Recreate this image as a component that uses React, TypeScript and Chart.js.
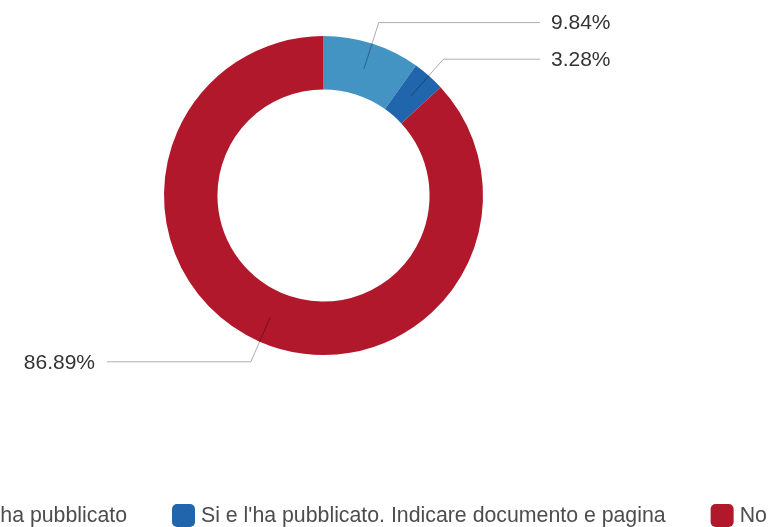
import React, { useEffect, useRef } from "react";
import { Chart, registerables } from "chart.js";

Chart.register(...registerables);

const categories: string[] = [
  "Si ma non l'ha pubblicato",
  "Si e l'ha pubblicato. Indicare documento e pagina",
  "No",
];
const percentages: number[] = [9.84, 3.28, 86.89];
const valueLabels: string[] = ["9.84%", "3.28%", "86.89%"];
const colors: string[] = ["#4393c3", "#2166ac", "#b2182b"];

const FONT = "21px 'Liberation Sans', Arial, sans-serif";
const LEGEND_FONT = "21.3px 'Liberation Sans', Arial, sans-serif";

const leaderPlugin = {
  id: "leaders",
  afterDatasetsDraw(chart: any) {
    const ctx: CanvasRenderingContext2D = chart.ctx;
    const meta = chart.getDatasetMeta(0);
    ctx.save();
    ctx.font = FONT;
    ctx.textBaseline = "middle";
    meta.data.forEach((arc: any, i: number) => {
      const { x, y, startAngle, endAngle, innerRadius, outerRadius } = arc.getProps(
        ["x", "y", "startAngle", "endAngle", "innerRadius", "outerRadius"],
        true
      );
      const mid = (startAngle + endAngle) / 2;
      const r0 = (innerRadius + outerRadius) / 2;
      const r1 = outerRadius + 22;
      const x0 = x + Math.cos(mid) * r0;
      const y0 = y + Math.sin(mid) * r0;
      const x1 = x + Math.cos(mid) * r1;
      const y1 = y + Math.sin(mid) * r1;
      const right = Math.cos(mid) >= 0;
      const x2 = right ? x + outerRadius + 57 : x - outerRadius - 57;
      ctx.strokeStyle = "rgba(0,0,0,0.32)";
      ctx.lineWidth = 1;
      ctx.beginPath();
      ctx.moveTo(x0, y0);
      ctx.lineTo(x1, y1);
      ctx.lineTo(x2, y1);
      ctx.stroke();
      ctx.fillStyle = "#333333";
      ctx.textAlign = right ? "left" : "right";
      ctx.fillText(valueLabels[i], right ? x2 + 11 : x2 - 12, y1 + 1);
    });
    ctx.restore();
  },
};

const legendPlugin = {
  id: "customLegend",
  afterDraw(chart: any) {
    const ctx: CanvasRenderingContext2D = chart.ctx;
    const box = 23;
    const boxGap = 6;
    const itemGap = 45;
    const cy = 515.5;
    ctx.save();
    ctx.font = LEGEND_FONT;
    ctx.textBaseline = "middle";
    ctx.textAlign = "left";
    const widths = categories.map((c) => box + boxGap + ctx.measureText(c).width);
    let xPos = 172 - widths[0] - itemGap;
    categories.forEach((c, i) => {
      ctx.fillStyle = colors[i];
      ctx.beginPath();
      (ctx as any).roundRect(xPos, cy - box / 2, box, box, 5);
      ctx.fill();
      ctx.fillStyle = "#4d4d4d";
      ctx.fillText(c, xPos + box + boxGap, cy + 1);
      xPos += widths[i] + itemGap;
    });
    ctx.restore();
  },
};

export default function App() {
  const ref = useRef<HTMLCanvasElement | null>(null);
  useEffect(() => {
    if (!ref.current) return;
    const chart = new Chart(ref.current, {
      type: "doughnut",
      data: {
        labels: categories,
        datasets: [
          {
            data: percentages,
            backgroundColor: colors,
            borderWidth: 0,
          },
        ],
      },
      options: {
        responsive: false,
        animation: false,
        devicePixelRatio: 1,
        cutout: "66.5%",
        layout: { padding: { left: 164, right: 292, top: 36, bottom: 172 } },
        plugins: {
          legend: { display: false },
          tooltip: { enabled: false },
        },
      },
      plugins: [leaderPlugin, legendPlugin],
    });
    return () => chart.destroy();
  }, []);
  return (
    <div style={{ position: "fixed", left: 0, top: 0, width: 775, height: 527, background: "#fff" }}>
      <canvas ref={ref} width={775} height={527} style={{ display: "block" }} />
    </div>
  );
}
